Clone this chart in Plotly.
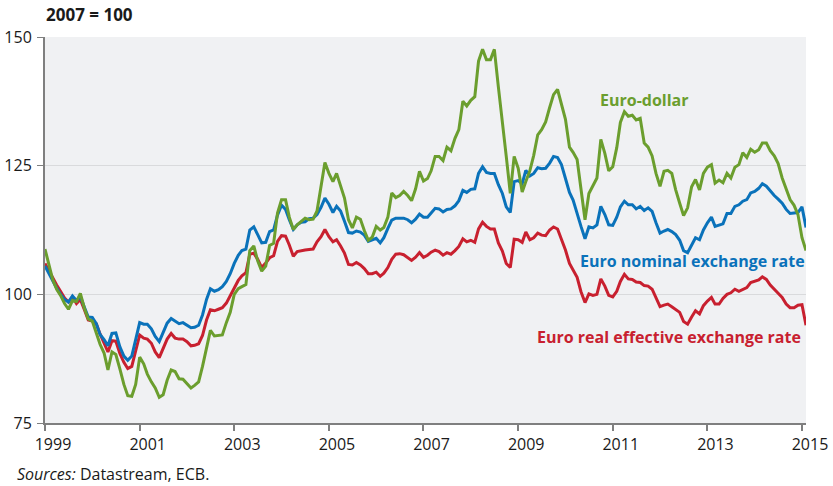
import pandas as pd
import plotly.graph_objects as go

dates = pd.date_range("1999-01-01", periods=194, freq="MS")

euro_dollar = [
    108.8, 105.5, 102.9, 101.0, 99.8, 98.2, 97.1, 98.8, 98.6, 100.2, 97.3, 95.2,
    94.8, 92.5, 90.3, 88.6, 85.3, 88.8, 88.3, 85.5, 82.5, 80.3, 80.2, 82.5,
    87.8, 86.5, 84.5, 83.0, 81.8, 80.0, 80.5, 83.3, 85.3, 85.0, 83.6, 83.5,
    82.6, 81.8, 82.3, 83.0, 86.0, 89.4, 93.0, 91.9, 92.0, 92.1, 94.5, 96.5,
    100.0, 101.1, 101.5, 101.9, 108.5, 109.4, 106.5, 104.5, 105.5, 109.5, 109.9, 115.8,
    118.4, 118.4, 115.0, 112.6, 113.5, 114.2, 114.8, 114.5, 114.6, 116.2, 120.6, 125.6,
    123.5, 121.9, 123.5, 121.0, 118.7, 114.5, 112.9, 115.0, 114.6, 112.4, 110.5, 111.1,
    113.2, 112.5, 113.0, 115.0, 119.7, 118.8, 119.2, 120.0, 119.2, 118.2, 120.5, 123.9,
    122.0, 122.5, 124.0, 126.8, 126.8, 126.0, 128.6, 127.9, 130.3, 132.0, 137.5, 136.6,
    137.7, 138.4, 145.3, 147.6, 145.6, 145.6, 147.6, 140.3, 134.0, 126.8, 119.6, 126.8,
    124.5, 119.9, 121.9, 124.0, 127.0, 131.0, 132.0, 133.5, 136.3, 138.8, 139.8, 136.8,
    134.0, 128.6, 127.6, 126.2, 120.3, 114.5, 119.6, 121.0, 122.6, 130.1, 127.4, 124.0,
    124.8, 128.5, 133.4, 135.5, 134.6, 134.8, 133.9, 134.2, 129.4, 128.6, 126.9, 123.5,
    121.0, 123.9, 124.1, 123.5, 120.3, 117.7, 115.3, 116.8, 120.9, 122.3, 120.3, 123.5,
    124.7, 125.2, 121.6, 122.2, 121.7, 123.5, 122.6, 124.7, 125.2, 127.5, 126.6, 128.2,
    127.6, 128.1, 129.4, 129.4, 127.9, 126.9, 125.4, 122.6, 120.3, 118.4, 117.3, 115.5,
    111.0, 108.5,
]

euro_nominal = [
    105.5, 104.0, 102.6, 101.2, 100.0, 99.0, 98.5, 99.7, 98.8, 99.6, 97.5, 95.6,
    95.5, 94.3, 92.2, 91.2, 90.0, 92.4, 92.5, 89.8, 88.0, 87.2, 88.0, 91.0,
    94.5, 94.2, 94.2, 93.3, 91.8, 90.8, 92.5, 94.4, 95.3, 94.8, 94.3, 94.5,
    94.0, 93.5, 93.6, 94.0, 96.0, 99.0, 101.1, 100.6, 100.9, 101.5, 102.5, 104.0,
    106.0, 107.6, 108.5, 108.8, 112.5, 113.1, 111.6, 110.0, 110.1, 112.2, 112.5, 115.4,
    117.3, 116.5, 114.5, 112.6, 113.5, 114.0, 114.1, 114.7, 114.8, 115.5, 116.9, 118.7,
    117.5, 115.9, 117.1, 116.2, 114.2, 112.0, 111.9, 112.3, 112.1, 111.5, 110.3, 110.6,
    110.9, 110.0, 111.0, 112.8, 114.4, 114.8, 114.8, 114.8, 114.5, 113.9, 114.6, 115.6,
    115.0, 115.0, 115.8, 116.7, 116.6, 116.0, 116.5, 116.6, 117.2, 118.2, 120.2, 119.8,
    120.4, 120.5, 123.5, 124.8, 123.7, 123.5, 123.5, 121.3, 119.6, 117.0, 115.9, 121.9,
    122.1, 121.5, 124.1, 123.0, 123.5, 124.6, 124.4, 124.5, 125.5, 126.8, 126.6, 125.2,
    122.5, 119.8, 118.3, 115.5, 113.2, 110.8, 113.1, 112.9, 113.5, 117.1, 115.5, 113.5,
    113.4, 115.0, 117.0, 118.1, 117.4, 117.4, 116.6, 117.1, 116.3, 116.8, 116.1, 113.9,
    111.9, 112.3, 112.6, 112.2, 111.6, 110.5, 108.5, 108.1, 109.7, 111.0, 110.6, 112.5,
    113.9, 115.0, 113.2, 113.4, 113.7, 115.7, 115.7, 117.1, 117.4, 118.1, 118.4, 119.7,
    120.0, 120.6, 121.5, 121.0, 120.0, 119.2, 118.5, 117.7, 116.5, 115.7, 115.8, 115.9,
    117.0, 113.0,
]

euro_real = [
    106.0, 104.5, 103.0, 101.8, 100.6, 99.3, 98.5, 99.5, 98.2, 99.0, 97.0, 95.0,
    94.8, 94.3, 92.3, 90.5, 88.8, 91.0, 90.9, 88.5, 86.8, 85.6, 86.0, 89.0,
    92.1, 91.5, 91.3, 90.5, 88.8, 87.7, 89.5, 91.3, 92.4, 91.5, 91.3, 91.3,
    90.8, 90.0, 90.1, 90.4, 92.0, 95.0, 97.0, 96.8, 97.1, 97.4, 98.3, 99.8,
    101.2, 102.7, 103.6, 104.2, 107.8, 108.0, 106.8, 105.2, 106.1, 107.1, 107.5, 110.3,
    111.4, 111.3, 109.6, 107.4, 108.3, 108.5, 108.6, 108.7, 108.8, 110.2, 111.2, 112.6,
    111.2, 110.2, 110.6, 109.4, 108.0, 105.8, 105.7, 106.2, 105.7, 105.0, 104.0, 104.0,
    104.3, 103.5, 104.1, 105.2, 106.8, 107.8, 107.9, 107.7, 107.1, 106.6, 107.2, 108.1,
    107.2, 107.6, 108.2, 108.6, 108.3, 107.6, 108.1, 107.8, 108.5, 109.3, 110.8, 110.2,
    110.5, 110.1, 112.7, 114.0, 113.2, 112.7, 112.7, 110.0, 108.4, 106.0, 105.2, 110.7,
    110.6, 110.1, 112.1, 110.6, 111.0, 111.9, 111.5, 111.4, 112.5, 113.1, 112.7, 110.8,
    108.6, 106.0, 104.8, 103.3, 100.5, 98.4, 100.1, 99.8, 100.0, 103.0, 101.6, 99.8,
    99.5, 100.6, 102.5, 103.9, 103.0, 102.9, 102.4, 102.3, 101.7, 101.6, 101.0, 99.2,
    97.6, 97.9, 98.1, 97.6, 97.1, 96.5, 94.7, 94.2, 95.6, 96.8, 96.2, 97.8,
    98.7, 99.4, 98.1, 98.1, 99.2, 100.0, 100.3, 101.0, 100.6, 100.9, 101.3, 102.3,
    102.6, 102.8, 103.4, 102.9, 101.8, 100.9, 100.2, 99.4, 98.1, 97.4, 97.4, 97.9,
    98.0, 94.0,
]

series_names = ["Euro-dollar", "Euro nominal exchange rate", "Euro real effective exchange rate"]
series_colors = ["#6b9e2e", "#0a72ba", "#c8202f"]
y_ticks = [75, 100, 125, 150]
x_tick_years = list(range(1999, 2016, 2))

FONT = "Open Sans"

fig = go.Figure()

# draw red first, blue, then green on top as in the reference
order = [(series_names[2], euro_real, series_colors[2]),
         (series_names[1], euro_nominal, series_colors[1]),
         (series_names[0], euro_dollar, series_colors[0])]
for name, vals, col in order:
    fig.add_trace(go.Scatter(x=dates, y=vals, mode="lines", name=name,
                             line=dict(color=col, width=3), hoverinfo="skip"))

fig.update_layout(
    width=833, height=486,
    margin=dict(l=45, r=27, t=37, b=63),
    paper_bgcolor="white",
    plot_bgcolor="#f0f1f3",
    showlegend=False,
    font=dict(family=FONT, size=16, color="#1a1a1a"),
)

fig.update_xaxes(
    range=[dates[0], dates[-1]],
    tickvals=[pd.Timestamp(f"{y}-01-01") for y in x_tick_years],
    ticktext=[str(y) for y in x_tick_years],
    ticks="outside", ticklen=6, tickcolor="#7f7f7f", tickwidth=1.5,
    showline=True, linecolor="#7f7f7f", linewidth=2,
    showgrid=False, zeroline=False,
    ticklabelshift=8,
    automargin=False,
    tickfont=dict(size=16, family=FONT, color="#1a1a1a"),
)
fig.update_yaxes(
    range=[75, 150],
    tickvals=y_ticks,
    ticks="outside", ticklen=6, tickcolor="#7f7f7f", tickwidth=1,
    showline=True, linecolor="#7f7f7f", linewidth=2,
    showgrid=True, gridcolor="#d9dadc", gridwidth=1,
    zeroline=False,
    automargin=False,
    ticklabelstandoff=2,
    tickfont=dict(size=16, family=FONT, color="#1a1a1a"),
)

fig.add_annotation(xref="paper", yref="paper", x=0, y=1.057, xanchor="left", yanchor="middle",
                   text="<b>2007 = 100</b>", showarrow=False, borderpad=0,
                   font=dict(size=17, family=FONT, color="#1a1a1a"))
fig.add_annotation(xref="paper", yref="paper", x=-0.0375, y=-0.132, xanchor="left", yanchor="middle",
                   text="<i>Sources:</i> Datastream, ECB.", showarrow=False, borderpad=0,
                   font=dict(size=16, family=FONT, color="#1a1a1a"))

label_pos = [("2010-09-10", 137.7), ("2010-04-05", 106.4), ("2009-05-10", 91.7)]
for (lx, ly), name, col in zip(label_pos, series_names, series_colors):
    fig.add_annotation(x=lx, y=ly, xanchor="left", yanchor="middle", text=f"<b>{name}</b>",
                       showarrow=False, font=dict(size=16, family=FONT, color=col))

# remove the browser's default 8px page margin so the figure fills the window
fig.write_html("out.html", config={"displayModeBar": False},
               post_script="document.body.style.margin='0';")
